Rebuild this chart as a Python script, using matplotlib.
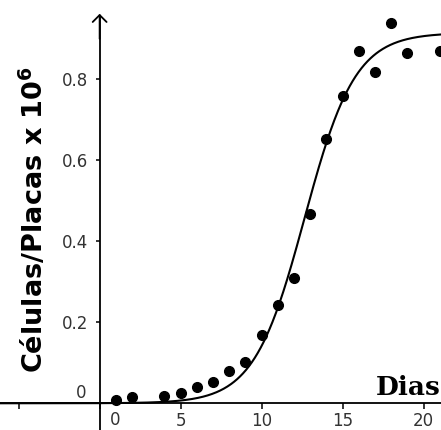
import numpy as np
import matplotlib.pyplot as plt

# dias de cultivo e celulas por placa (x 10^6)
dias = [1, 2, 4, 5, 6, 7, 8, 9, 10, 11, 12, 13, 14, 15, 16, 17, 18, 19, 21]
celulas = [0.008, 0.015, 0.019, 0.026, 0.039, 0.053, 0.080, 0.102, 0.168,
           0.242, 0.310, 0.467, 0.652, 0.758, 0.870, 0.819, 0.938, 0.864, 0.871]

# parametros da curva logistica ajustada
L_max = 0.915
k_taxa = 0.64
x_meio = 12.65

x_ticks = [-5, 0, 5, 10, 15, 20]
x_labels = ["", "", "5", "10", "15", "20"]
y_ticks = [0.2, 0.4, 0.6, 0.8]
y_labels = ["0.2", "0.4", "0.6", "0.8"]

cor_texto = "#333333"

fig = plt.figure(figsize=(4.41, 4.30), dpi=100)
ax = fig.add_axes([0, 0, 1, 1])
ax.set_xlim(-6.15, 21.07)
ax.set_ylim(-0.066, 0.996)

ax.spines["top"].set_visible(False)
ax.spines["right"].set_visible(False)
ax.spines["bottom"].set_position(("data", 0))
ax.spines["left"].set_position(("data", 0))
ax.spines["left"].set_bounds(-0.066, 0.955)
for s in ["bottom", "left"]:
    ax.spines[s].set_linewidth(1.3)

ax.annotate("", xy=(0, 0.962), xytext=(0, 0.90),
            arrowprops=dict(arrowstyle="->,head_length=0.5,head_width=0.5",
                            lw=1.3, color="black", shrinkA=0, shrinkB=0))

ax.set_xticks(x_ticks)
ax.set_xticklabels(x_labels)
ax.set_yticks(y_ticks)
ax.set_yticklabels(y_labels)
ax.tick_params(axis="x", direction="out", length=4, width=1.1, pad=2,
               labelsize=12, labelcolor=cor_texto)
ax.tick_params(axis="y", direction="out", length=3, width=1.1, pad=5,
               labelsize=12, labelcolor=cor_texto)

ax.annotate("0", xy=(0, 0), xytext=(10.8, -12), textcoords="offset points",
            ha="center", va="center", fontsize=12, color=cor_texto)
ax.annotate("0", xy=(0, 0), xytext=(-9.4, 7.2), textcoords="offset points",
            ha="right", va="center", fontsize=12, color=cor_texto)

xs = np.linspace(-6.15, 21.07, 600)
ys = L_max / (1 + np.exp(-k_taxa * (xs - x_meio)))
ax.plot(xs, ys, color="black", lw=1.5, clip_on=False)
ax.plot(dias, celulas, "o", color="black", markersize=7, clip_on=True)

ax.text(21.07, 0.0205, "Dias", ha="right", va="baseline",
        fontsize=19, fontweight="bold", family="DejaVu Serif")

fig.text(43 / 441, 1 - 219 / 430, "Células/Placas x 10$^{\\mathbf{6}}$",
         rotation=90, rotation_mode="anchor", ha="center", va="baseline",
         fontsize=19.5, fontweight="bold")

fig.savefig("out.png", dpi=100)
